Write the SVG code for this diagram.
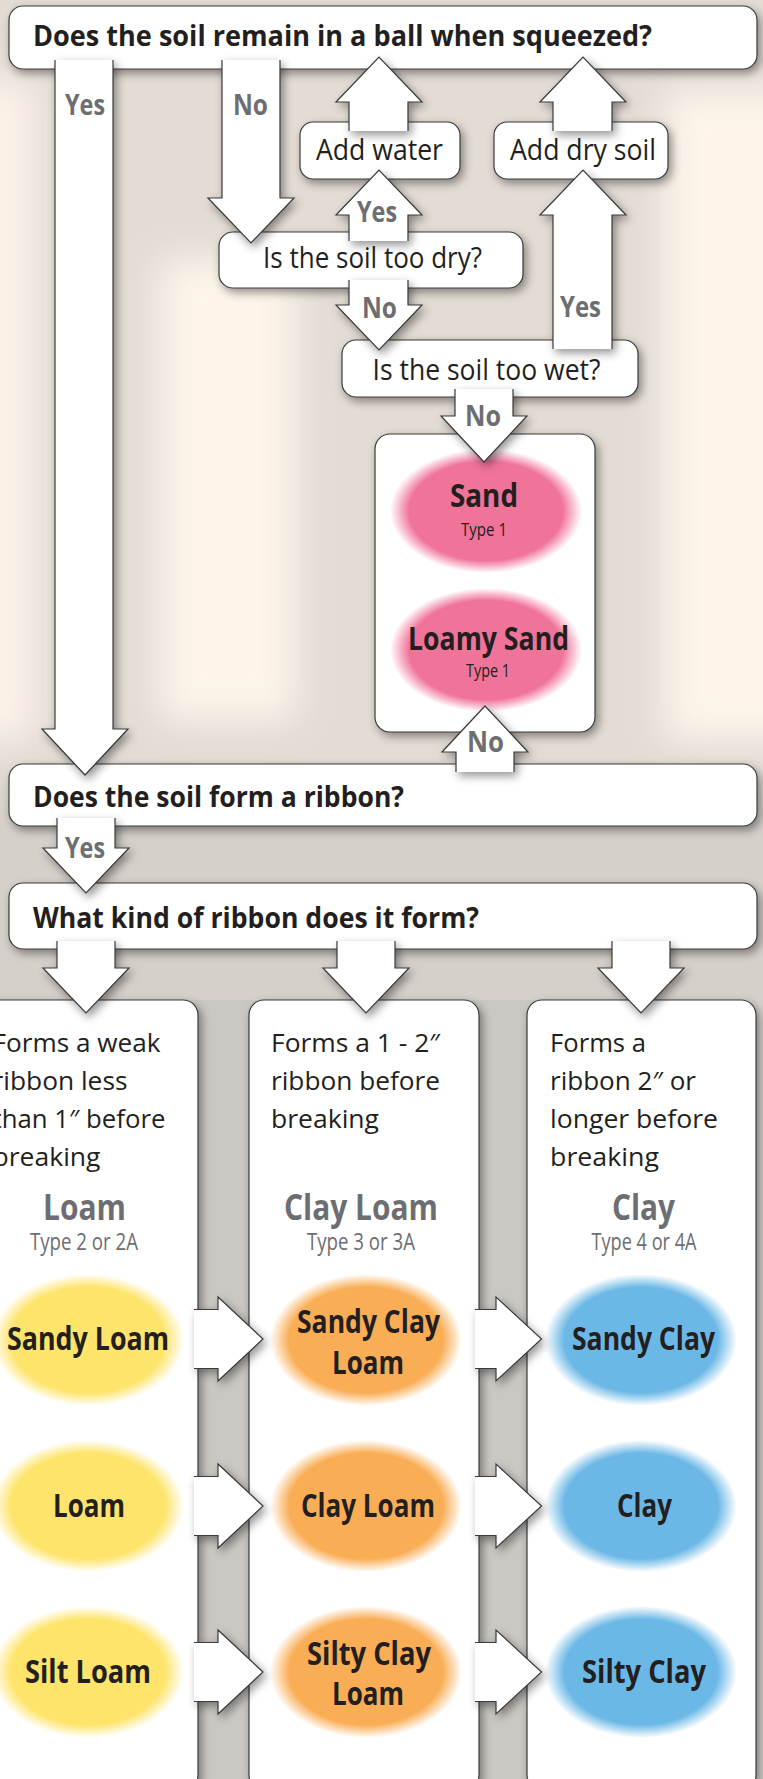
<svg xmlns="http://www.w3.org/2000/svg" width="763" height="1779" viewBox="0 0 763 1779">
<defs>
<filter id="sh" x="-30%" y="-30%" width="160%" height="160%"><feDropShadow dx="3" dy="4" stdDeviation="5" flood-color="#000" flood-opacity="0.42"/></filter>
<filter id="blur" x="-50%" y="-50%" width="200%" height="200%"><feGaussianBlur stdDeviation="18"/></filter>
<radialGradient id="gPink"><stop offset="0.8" stop-color="#f07399"/><stop offset="1" stop-color="#f07399" stop-opacity="0"/></radialGradient>
<radialGradient id="gYel"><stop offset="0.8" stop-color="#fee46a"/><stop offset="1" stop-color="#fee46a" stop-opacity="0"/></radialGradient>
<radialGradient id="gOra"><stop offset="0.8" stop-color="#f9ad55"/><stop offset="1" stop-color="#f9ad55" stop-opacity="0"/></radialGradient>
<radialGradient id="gBlu"><stop offset="0.8" stop-color="#6bb8e6"/><stop offset="1" stop-color="#6bb8e6" stop-opacity="0"/></radialGradient>
<style>
.box{fill:#fff;stroke:#3a3a3a;stroke-width:1.2;filter:url(#sh)}
.arr{fill:#fff;stroke:#3a3a3a;stroke-width:1.2;stroke-linejoin:miter;filter:url(#sh)}
text{font-family:"Open Sans","Noto Sans","DejaVu Sans",sans-serif}
.q{font-weight:bold;font-size:28px;fill:#231f20}
.lab{font-weight:bold;font-size:28px;fill:#6d6e71;text-anchor:middle}
.t{font-size:29px;fill:#231f20;text-anchor:middle}
.col{font-size:26px;fill:#231f20}
.soil{font-weight:bold;font-size:32px;fill:#231f20;text-anchor:middle}
.hdr{font-weight:bold;font-size:36px;fill:#6d6e71;text-anchor:middle}
.typ{font-size:24px;fill:#6d6e71;text-anchor:middle}
.typ1{font-size:19px;fill:#231f20;text-anchor:middle}
</style>
</defs>
<g id="background">
<rect width="763" height="1779" fill="#e3dcd4"/>
<g filter="url(#blur)">
<rect x="-40" y="80" width="75" height="660" fill="#fbf3e8"/>
<rect x="160" y="260" width="135" height="460" fill="#fdf5ea"/>
<rect x="665" y="90" width="160" height="650" fill="#fdf5ea"/>
<rect x="-40" y="790" width="843" height="1040" fill="#d6d0cb"/>
</g>
<rect x="180" y="1000" width="360" height="779" fill="#cbc7c3"/>
</g>
<g id="nodes">
<g id="q1"><rect class="box" x="9" y="6" width="748" height="63" rx="14"/><text class="q" x="33" y="46" textLength="619" lengthAdjust="spacingAndGlyphs">Does the soil remain in a ball when squeezed?</text></g>
<g id="addWater"><rect class="box" x="300" y="122" width="160" height="57" rx="13"/><text class="t" x="379.5" y="160" textLength="127" lengthAdjust="spacingAndGlyphs">Add water</text></g>
<g id="addDrySoil"><rect class="box" x="494" y="122" width="174" height="57" rx="13"/><text class="t" x="583" y="160" textLength="146" lengthAdjust="spacingAndGlyphs">Add dry soil</text></g>
<g id="tooDry"><rect class="box" x="219" y="232" width="304" height="56" rx="14"/><text class="t" x="372.5" y="268" textLength="219" lengthAdjust="spacingAndGlyphs">Is the soil too dry?</text></g>
<g id="tooWet"><rect class="box" x="342" y="340" width="296" height="57" rx="14"/><text class="t" x="486.5" y="380" textLength="228" lengthAdjust="spacingAndGlyphs">Is the soil too wet?</text></g>
<g id="sandBox"><rect class="box" x="375" y="434" width="220" height="298" rx="15"/>
<ellipse cx="486" cy="511" rx="96" ry="62" fill="url(#gPink)"/>
<text class="soil" x="484" y="507" textLength="68" lengthAdjust="spacingAndGlyphs">Sand</text>
<text class="typ1" x="484" y="536" textLength="46" lengthAdjust="spacingAndGlyphs">Type 1</text>
<ellipse cx="486" cy="650" rx="96" ry="62" fill="url(#gPink)"/>
<text class="soil" x="488.5" y="650" textLength="161" lengthAdjust="spacingAndGlyphs">Loamy Sand</text>
<text class="typ1" x="488" y="677" textLength="44" lengthAdjust="spacingAndGlyphs">Type 1</text>
</g>
<g id="q2"><rect class="box" x="9" y="764" width="748" height="62" rx="14"/><text class="q" x="33" y="807" textLength="371" lengthAdjust="spacingAndGlyphs">Does the soil form a ribbon?</text></g>
<g id="q3"><rect class="box" x="9" y="883" width="748" height="66" rx="14"/><text class="q" x="33" y="928" textLength="446" lengthAdjust="spacingAndGlyphs">What kind of ribbon does it form?</text></g>
<g id="colLoam"><rect class="box" x="-22" y="1000" width="220" height="790" rx="15"/>
<text class="col" x="-7.5" y="1052" textLength="168" lengthAdjust="spacingAndGlyphs">Forms a weak</text>
<text class="col" x="-7.5" y="1090" textLength="135" lengthAdjust="spacingAndGlyphs">ribbon less</text>
<text class="col" x="-7.5" y="1128" textLength="173" lengthAdjust="spacingAndGlyphs">than 1″ before</text>
<text class="col" x="-7.5" y="1166" textLength="108" lengthAdjust="spacingAndGlyphs">breaking</text>
<text class="hdr" x="84.5" y="1220" textLength="83" lengthAdjust="spacingAndGlyphs">Loam</text>
<text class="typ" x="84" y="1250" textLength="108" lengthAdjust="spacingAndGlyphs">Type 2 or 2A</text>
<ellipse cx="88" cy="1340" rx="96" ry="66" fill="url(#gYel)"/>
<text class="soil" x="88" y="1350" textLength="162" lengthAdjust="spacingAndGlyphs">Sandy Loam</text>
<ellipse cx="88" cy="1506" rx="96" ry="66" fill="url(#gYel)"/>
<text class="soil" x="89" y="1517" textLength="72" lengthAdjust="spacingAndGlyphs">Loam</text>
<ellipse cx="88" cy="1672" rx="96" ry="66" fill="url(#gYel)"/>
<text class="soil" x="88" y="1683" textLength="126" lengthAdjust="spacingAndGlyphs">Silt Loam</text>
</g>
<g id="colClayLoam"><rect class="box" x="249" y="1000" width="230" height="790" rx="15"/>
<text class="col" x="271" y="1052" textLength="169" lengthAdjust="spacingAndGlyphs">Forms a 1 - 2″</text>
<text class="col" x="271" y="1090" textLength="169" lengthAdjust="spacingAndGlyphs">ribbon before</text>
<text class="col" x="271" y="1128" textLength="108" lengthAdjust="spacingAndGlyphs">breaking</text>
<text class="hdr" x="361" y="1220" textLength="154" lengthAdjust="spacingAndGlyphs">Clay Loam</text>
<text class="typ" x="361" y="1250" textLength="108" lengthAdjust="spacingAndGlyphs">Type 3 or 3A</text>
<ellipse cx="366" cy="1340" rx="96" ry="66" fill="url(#gOra)"/>
<text class="soil" x="368.5" y="1333" textLength="143" lengthAdjust="spacingAndGlyphs">Sandy Clay</text>
<text class="soil" x="368" y="1374" textLength="72" lengthAdjust="spacingAndGlyphs">Loam</text>
<ellipse cx="366" cy="1506" rx="96" ry="66" fill="url(#gOra)"/>
<text class="soil" x="368" y="1517" textLength="134" lengthAdjust="spacingAndGlyphs">Clay Loam</text>
<ellipse cx="366" cy="1672" rx="96" ry="66" fill="url(#gOra)"/>
<text class="soil" x="369" y="1665" textLength="124" lengthAdjust="spacingAndGlyphs">Silty Clay</text>
<text class="soil" x="368" y="1705" textLength="72" lengthAdjust="spacingAndGlyphs">Loam</text>
</g>
<g id="colClay"><rect class="box" x="527" y="1000" width="229" height="790" rx="15"/>
<text class="col" x="550" y="1052" textLength="96" lengthAdjust="spacingAndGlyphs">Forms a</text>
<text class="col" x="550" y="1090" textLength="146" lengthAdjust="spacingAndGlyphs">ribbon 2″ or</text>
<text class="col" x="550" y="1128" textLength="168" lengthAdjust="spacingAndGlyphs">longer before</text>
<text class="col" x="550" y="1166" textLength="109" lengthAdjust="spacingAndGlyphs">breaking</text>
<text class="hdr" x="643.5" y="1220" textLength="63" lengthAdjust="spacingAndGlyphs">Clay</text>
<text class="typ" x="644" y="1250" textLength="105" lengthAdjust="spacingAndGlyphs">Type 4 or 4A</text>
<ellipse cx="641" cy="1340" rx="96" ry="66" fill="url(#gBlu)"/>
<text class="soil" x="643.5" y="1350" textLength="143" lengthAdjust="spacingAndGlyphs">Sandy Clay</text>
<ellipse cx="641" cy="1506" rx="96" ry="66" fill="url(#gBlu)"/>
<text class="soil" x="644.5" y="1517" textLength="55" lengthAdjust="spacingAndGlyphs">Clay</text>
<ellipse cx="641" cy="1672" rx="96" ry="66" fill="url(#gBlu)"/>
<text class="soil" x="644" y="1683" textLength="124" lengthAdjust="spacingAndGlyphs">Silty Clay</text>
</g>
</g>
<g id="connectors">
<path class="arr" d="M55 60 V729 H42 L85 775 L128 729 H113 V60"/>
<path class="arr" d="M222 60 V198 H208 L251 243 L294 198 H280 V60"/>
<path class="arr" d="M349 131 V102 H336 L379 57 L422 102 H408 V131"/>
<path class="arr" d="M553 131 V102 H540 L583 57 L626 102 H612 V131"/>
<path class="arr" d="M349 241 V215 H336 L379 170 L422 215 H408 V241"/>
<path class="arr" d="M349 280 V305 H336 L379 350 L422 305 H408 V280"/>
<path class="arr" d="M553 349 V215 H540 L583 170 L626 215 H612 V349"/>
<path class="arr" d="M455 389 V416 H441 L484 462 L527 416 H513 V389"/>
<path class="arr" d="M456 772 V752 H442 L485 706 L528 752 H514 V772"/>
<path class="arr" d="M57 818 V848 H43 L86 893 L129 848 H115 V818"/>
<path class="arr" d="M57 941 V968 H43 L86 1013 L129 968 H115 V941"/>
<path class="arr" d="M337 941 V968 H323 L366 1013 L409 968 H395 V941"/>
<path class="arr" d="M612 941 V968 H598 L641 1013 L684 968 H670 V941"/>
<path class="arr" d="M194 1309.5 H218 V1297 L263 1339 L218 1381 V1368.5 H194"/>
<path class="arr" d="M194 1476.5 H218 V1464 L263 1506 L218 1548 V1535.5 H194"/>
<path class="arr" d="M194 1642.5 H218 V1630 L263 1672 L218 1714 V1701.5 H194"/>
<path class="arr" d="M475 1309.5 H496 V1297 L541.5 1339 L496 1381 V1368.5 H475"/>
<path class="arr" d="M475 1476.5 H496 V1464 L541.5 1506 L496 1548 V1535.5 H475"/>
<path class="arr" d="M475 1642.5 H496 V1630 L541.5 1672 L496 1714 V1701.5 H475"/>
<text class="lab" x="85" y="115" textLength="40" lengthAdjust="spacingAndGlyphs">Yes</text>
<text class="lab" x="250.5" y="115" textLength="35" lengthAdjust="spacingAndGlyphs">No</text>
<text class="lab" x="377" y="222" textLength="40" lengthAdjust="spacingAndGlyphs">Yes</text>
<text class="lab" x="379.5" y="318" textLength="35" lengthAdjust="spacingAndGlyphs">No</text>
<text class="lab" x="580.5" y="317" textLength="41" lengthAdjust="spacingAndGlyphs">Yes</text>
<text class="lab" x="483" y="426" textLength="36" lengthAdjust="spacingAndGlyphs">No</text>
<text class="lab" x="485.5" y="752" textLength="37" lengthAdjust="spacingAndGlyphs">No</text>
<text class="lab" x="85" y="858" textLength="40" lengthAdjust="spacingAndGlyphs">Yes</text>
</g>
</svg>
